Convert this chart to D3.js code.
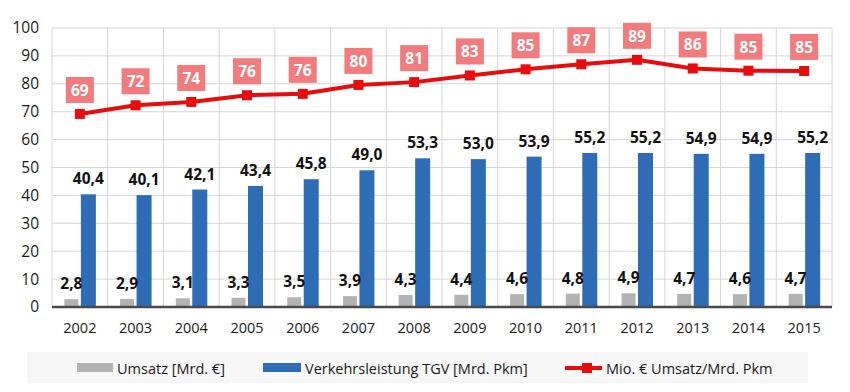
<!DOCTYPE html>
<html><head><meta charset="utf-8">
<script src="https://cdn.jsdelivr.net/npm/d3@7"></script>
<style>body{margin:0;background:#fff}svg{display:block;font-family:"Open Sans",Arial,sans-serif}</style>
</head><body><svg id="c" width="850" height="392"></svg>
<script>
const years = ["2002","2003","2004","2005","2006","2007","2008","2009","2010","2011","2012","2013","2014","2015"];
const umsatz = [2.8,2.9,3.1,3.3,3.5,3.9,4.3,4.4,4.6,4.8,4.9,4.7,4.6,4.7];
const verkehr = [40.4,40.1,42.1,43.4,45.8,49.0,53.3,53.0,53.9,55.2,55.2,54.9,54.9,55.2];
const ratio = [69.2,72.3,73.5,75.9,76.4,79.6,80.6,83.0,85.2,87.0,88.6,85.5,84.7,84.6];
const ratioLabels = ["69","72","74","76","76","80","81","83","85","87","89","86","85","85"];
const yTicks = [0,10,20,30,40,50,60,70,80,90,100];

const svg = d3.select("#c");
const L=52, R=832, T=28, B=307;
const x = d3.scaleBand().domain(years).range([L,R]).padding(0);
const y = d3.scaleLinear().domain([0,100]).range([B,T]);
const fmt = v => d3.format(".1f")(v).replace(".", ",");

// horizontal grid
svg.append("g").selectAll("line").data(yTicks.filter(d=>d>0)).join("line")
  .attr("x1",L).attr("x2",R).attr("y1",d=>y(d)).attr("y2",d=>y(d))
  .attr("stroke","#d6d6d6").attr("stroke-width",1);
// vertical grid
const bounds = years.map(d=>x(d)).concat([R]);
svg.append("g").selectAll("line").data(bounds).join("line")
  .attr("x1",d=>d).attr("x2",d=>d).attr("y1",T).attr("y2",B)
  .attr("stroke","#d6d6d6").attr("stroke-width",1);

// y axis labels
const yAxis = d3.axisLeft(y).tickValues(yTicks).tickSize(0).tickPadding(13);
svg.append("g").attr("transform",`translate(${L},0)`).call(yAxis)
  .call(g=>g.select(".domain").remove())
  .call(g=>g.selectAll("text").attr("font-size",15.5).attr("fill","#1a1a1a").attr("font-family","'Open Sans',Arial,sans-serif"));

// x axis labels
const xAxis = d3.axisBottom(x).tickSize(0).tickPadding(16);
svg.append("g").attr("transform",`translate(0,${B})`).call(xAxis)
  .call(g=>g.select(".domain").remove())
  .call(g=>g.selectAll("text").attr("font-size",14.5).attr("fill","#1a1a1a").attr("font-family","'Open Sans',Arial,sans-serif"));

const bw = 14;
// grey bars
svg.append("g").selectAll("rect").data(umsatz).join("rect")
  .attr("x",(d,i)=>x(years[i])+x.bandwidth()/2-bw-1.5).attr("width",bw)
  .attr("y",d=>y(d)).attr("height",d=>B-y(d)).attr("fill","#b3b3b3");
// blue bars
svg.append("g").selectAll("rect").data(verkehr).join("rect")
  .attr("x",(d,i)=>x(years[i])+x.bandwidth()/2+1).attr("width",bw+1)
  .attr("y",d=>y(d)).attr("height",d=>B-y(d)).attr("fill","#2e6db5");

// baseline
svg.append("line").attr("x1",L).attr("x2",R).attr("y1",B).attr("y2",B)
  .attr("stroke","#4a4a4a").attr("stroke-width",2.5);

// bar labels
svg.append("g").selectAll("text").data(umsatz).join("text")
  .attr("x",(d,i)=>x(years[i])+x.bandwidth()/2-bw/2-1.5).attr("y",d=>y(d)-16)
  .attr("text-anchor","middle").attr("dominant-baseline","central")
  .attr("font-size",15.5).attr("font-weight","bold").attr("fill","#111").text(d=>fmt(d));
svg.append("g").selectAll("text").data(verkehr).join("text")
  .attr("x",(d,i)=>x(years[i])+x.bandwidth()/2+1+(bw+1)/2).attr("y",d=>y(d)-16)
  .attr("text-anchor","middle").attr("dominant-baseline","central")
  .attr("font-size",15.5).attr("font-weight","bold").attr("fill","#111").text(d=>fmt(d));

// line
const cx = i => x(years[i])+x.bandwidth()/2;
svg.append("path").datum(ratio)
  .attr("d",d3.line().x((d,i)=>cx(i)).y(d=>y(d)))
  .attr("fill","none").attr("stroke","#e80c0c").attr("stroke-width",4).attr("stroke-linejoin","round");
svg.append("g").selectAll("rect").data(ratio).join("rect")
  .attr("x",(d,i)=>cx(i)-5).attr("y",d=>y(d)-5).attr("width",10).attr("height",10).attr("fill","#e80c0c");

// line labels
const lg = svg.append("g").selectAll("g").data(ratio).join("g")
  .attr("transform",(d,i)=>`translate(${cx(i)},${y(d)-24})`);
lg.append("rect").attr("x",-14).attr("y",-13).attr("width",28).attr("height",26).attr("fill","#f27b7d");
lg.append("text").attr("text-anchor","middle").attr("dominant-baseline","central")
  .attr("font-size",15.5).attr("font-weight","bold").attr("fill","#fff").text((d,i)=>ratioLabels[i]);

// legend
svg.append("rect").attr("x",27).attr("y",352).attr("width",781).attr("height",31).attr("fill","#f7f7f7");
const leg = svg.append("g").attr("font-size",14.5).attr("fill","#1a1a1a");
leg.append("rect").attr("x",77).attr("y",363).attr("width",36).attr("height",9).attr("fill","#b3b3b3");
leg.append("text").attr("x",117).attr("y",368).attr("dominant-baseline","central").text("Umsatz [Mrd. €]");
leg.append("rect").attr("x",263).attr("y",363).attr("width",38).attr("height",9).attr("fill","#2e6db5");
leg.append("text").attr("x",305).attr("y",368).attr("dominant-baseline","central").text("Verkehrsleistung TGV [Mrd. Pkm]");
leg.append("line").attr("x1",565).attr("x2",602).attr("y1",368).attr("y2",368).attr("stroke","#e80c0c").attr("stroke-width",4);
leg.append("rect").attr("x",582).attr("y",363).attr("width",10).attr("height",10).attr("fill","#e80c0c");
leg.append("text").attr("x",606).attr("y",368).attr("dominant-baseline","central").text("Mio. € Umsatz/Mrd. Pkm");
</script></body></html>
